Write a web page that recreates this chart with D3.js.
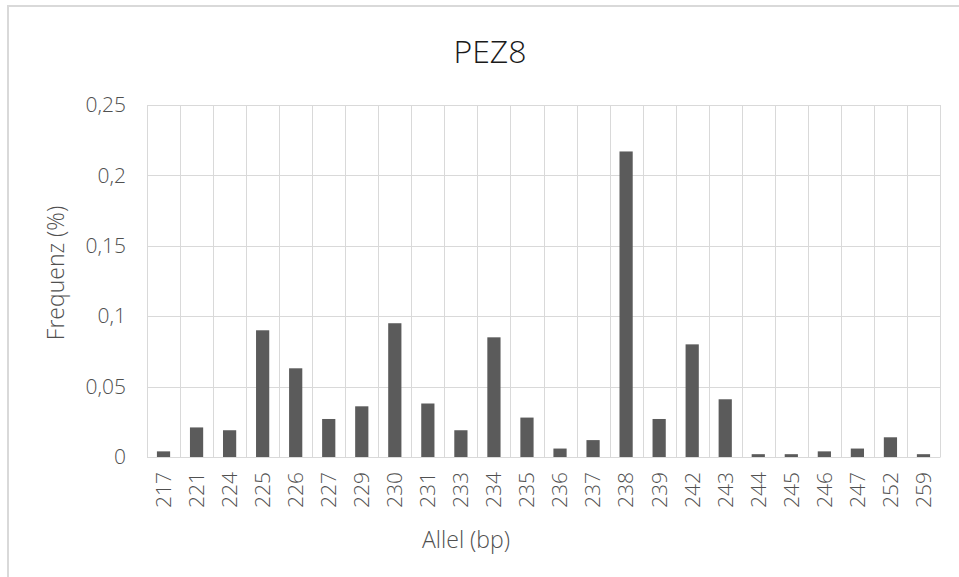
<!DOCTYPE html>
<html>
<head>
<meta charset="utf-8">
<script src="https://cdn.jsdelivr.net/npm/d3@7/dist/d3.min.js"></script>
<style>
  html, body { margin: 0; padding: 0; background: #fff; }
  svg { display: block; }
  text { font-family: "Open Sans", "Noto Sans", sans-serif; font-weight: 300; fill: #505050; }
</style>
</head>
<body>
<svg id="chart" width="959" height="577"></svg>
<script>
const categories = ["217","221","224","225","226","227","229","230","231","233","234","235","236","237","238","239","242","243","244","245","246","247","252","259"];
const values = [0.004,0.021,0.019,0.090,0.063,0.027,0.036,0.095,0.038,0.019,0.085,0.028,0.006,0.012,0.217,0.027,0.080,0.041,0.002,0.002,0.004,0.006,0.014,0.002];
const yTicks = [0, 0.05, 0.1, 0.15, 0.2, 0.25];
const titleText = "PEZ8";
const xTitle = "Allel (bp)";
const yTitle = "Frequenz (%)";

const svg = d3.select("#chart");
const W = 959, H = 577;
const m = { left: 147, right: 940, top: 105, bottom: 457 };

// chart border (top and left visible)
svg.append("rect").attr("x", 8).attr("y", 6).attr("width", W + 20).attr("height", H + 20)
  .attr("fill", "#fff").attr("stroke", "#d9d9d9").attr("stroke-width", 2);

const xb = d3.scaleBand().domain(categories).range([m.left, m.right]).padding(0);
const y = d3.scaleLinear().domain([0, 0.25]).range([m.bottom, m.top]);

const fmt = d => d3.format("")(d).replace(".", ",");

// horizontal gridlines
svg.append("g").selectAll("line").data(yTicks).join("line")
  .attr("x1", m.left).attr("x2", m.right)
  .attr("y1", d => Math.round(y(d)) + 0.5).attr("y2", d => Math.round(y(d)) + 0.5)
  .attr("stroke", "#d9d9d9").attr("stroke-width", 1);

// vertical gridlines at category boundaries
const bounds = categories.map(c => xb(c)).concat([m.right]);
svg.append("g").selectAll("line").data(bounds).join("line")
  .attr("x1", d => Math.round(d) + 0.5).attr("x2", d => Math.round(d) + 0.5)
  .attr("y1", m.top).attr("y2", m.bottom)
  .attr("stroke", "#d9d9d9").attr("stroke-width", 1);

// bars
const barW = xb.bandwidth() / 2.5;
svg.append("g").selectAll("rect").data(categories).join("rect")
  .attr("x", (c) => xb(c) + (xb.bandwidth() - barW) / 2)
  .attr("width", barW)
  .attr("y", (c, i) => y(values[i]))
  .attr("height", (c, i) => y(0) - y(values[i]))
  .attr("fill", "#5b5b5b");

// y axis labels
const yAxis = d3.axisLeft(y).tickValues(yTicks).tickFormat(fmt).tickSize(0).tickPadding(21);
const gy = svg.append("g").attr("transform", `translate(${m.left},0)`).call(yAxis);
gy.select(".domain").remove();
gy.selectAll("text").style("font-size", "21px").attr("fill", "#505050").attr("font-family", null);

// x axis labels
const xAxis = d3.axisBottom(xb).tickSize(0).tickPadding(0);
const gx = svg.append("g").attr("transform", `translate(0,${m.bottom})`).call(xAxis);
gx.select(".domain").attr("stroke", "#d9d9d9");
gx.selectAll("text")
  .style("font-size", "21px").attr("fill", "#505050").attr("font-family", null)
  .attr("text-anchor", "end").attr("dy", "0.35em").attr("y", 0)
  .attr("transform", "translate(0,15) rotate(-90)");

// title
svg.append("text").attr("x", 490).attr("y", 63).attr("text-anchor", "middle")
  .style("font-size", "32px").style("font-weight", "300").style("fill", "#1a1a1a").text(titleText);

// axis titles
svg.append("text").attr("x", 466).attr("y", 548).attr("text-anchor", "middle")
  .style("font-size", "23px").text(xTitle);
svg.append("text").attr("transform", "translate(64,273) rotate(-90)").attr("text-anchor", "middle")
  .style("font-size", "23px").text(yTitle);
</script>
</body>
</html>
